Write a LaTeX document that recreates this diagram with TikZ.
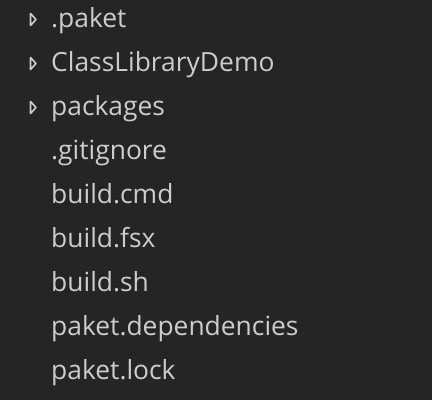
\documentclass[tikz,border=0pt]{standalone}
\usepackage{fontspec}
\setmainfont{Open Sans}
\definecolor{bg}{HTML}{252526}
\definecolor{fg}{HTML}{CCCCCC}
\begin{document}
\begin{tikzpicture}[x=1pt,y=-1pt,
  item/.style={anchor=base west,inner sep=0pt,text=fg,font=\fontsize{26.4}{30}\selectfont},
  twisty/.style={draw=fg,line width=1.6pt,line join=round}]
\fill[bg] (0,0) rectangle (432,400);
\useasboundingbox (0,0) rectangle (432,400);
\node[item] (n1) at (51,27.5) {.paket};
\node[item] (n2) at (51,71.5) {ClassLibraryDemo};
\node[item] (n3) at (51,115.5) {packages};
\node[item] (n4) at (51,159.5) {.gitignore};
\node[item] (n5) at (51,203.5) {build.cmd};
\node[item] (n6) at (51,247.5) {build.fsx};
\node[item] (n7) at (51,291.5) {build.sh};
\node[item] (n8) at (51,335.5) {paket.dependencies};
\node[item] (n9) at (51,379.5) {paket.lock};
\foreach \y/\n in {19.5/t1,63.5/t2,107.5/t3}{
  \draw[twisty] (30.5,\y-6) -- (36,\y) -- (30.5,\y+6) -- cycle;
}
\end{tikzpicture}
\end{document}
